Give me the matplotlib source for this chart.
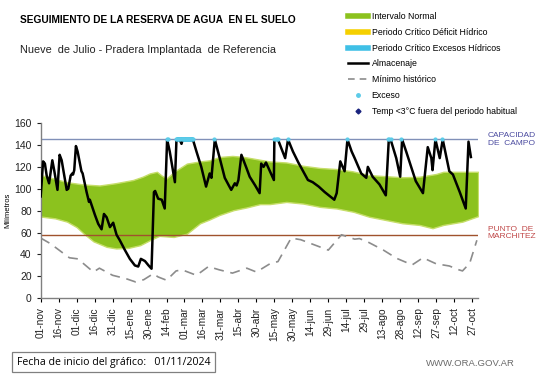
import matplotlib
matplotlib.use("Agg")
import matplotlib.pyplot as plt
from matplotlib.lines import Line2D
import numpy as np

plt.rcParams['font.family'] = ['Liberation Sans', 'DejaVu Sans']

# ---------------- data ----------------
tick_labels = ["01-nov", "16-nov", "01-dic", "16-dic", "31-dic", "15-ene", "30-ene",
               "14-feb", "01-mar", "16-mar", "31-mar", "15-abr", "30-abr", "15-may",
               "30-may", "14-jun", "29-jun", "14-jul", "29-jul", "13-ago", "28-ago",
               "12-sep", "27-sep", "12-oct", "27-oct"]
tick_days = [15 * i for i in range(len(tick_labels))]

band_up_days = [0, 2, 12, 22, 35, 49, 62, 77, 85, 91, 97, 101, 105, 112, 122, 133, 141, 149,
                160, 170, 183, 191, 205, 219, 233, 247, 260, 274, 288, 302, 316, 330, 336, 350, 365]
band_up_vals = [110, 112, 109, 106, 104, 103, 105, 108, 111, 114, 115.5, 112, 109.5, 116, 123, 125, 126, 129,
                130, 129, 126.5, 125, 124, 121, 119, 118, 116, 112.5, 111.5, 110.5, 111, 113.5, 115.5, 115.5, 115.5]

band_lo_days = [0, 1, 12, 22, 30, 36, 44, 55, 63, 73, 83, 91, 99, 105, 111, 122, 133, 141, 149,
                161, 172, 183, 191, 205, 219, 233, 247, 261, 274, 288, 302, 316, 327, 336, 352, 365]
band_lo_vals = [75, 74.5, 73, 70, 65, 59, 52, 47, 45.5, 46, 48.5, 53, 57, 56.5, 56, 59, 68.5, 72, 76,
                80.5, 83, 86, 86, 88, 86.5, 83.5, 82, 79, 74.5, 71.5, 68.5, 67, 64, 67, 70, 75]

min_days = [0, 8, 19, 24, 31, 44, 49, 60, 71, 79, 86, 94, 98, 105, 113, 118, 130, 140, 149, 160,
            172, 180, 192, 198, 209, 217, 240, 251, 262, 266, 272, 286, 297, 310, 319, 330, 341,
            349, 352, 358, 364]
min_vals = [55, 50, 41, 37, 36, 24, 27.5, 21, 18, 15, 17, 22.5, 19.5, 16.5, 25, 26, 21, 29, 26, 23,
            27.5, 24, 32, 33.5, 55, 53.5, 44, 58, 54, 54.5, 52, 44, 36.5, 30.5, 37, 31.5, 29.5,
            26, 25, 32, 53]

alm_days = [0, 2, 3.5, 5, 7, 9.7, 11.4, 14, 15.8, 17.5, 21.7, 23, 25, 26.4, 27, 28, 29.4, 30.8,
            34, 35, 38.3, 40.3, 41, 45.3, 48, 50.8, 52.8, 55, 57.8, 60.5, 63.3, 66, 70.3, 74.4,
            78.6, 81.4, 83.6, 87, 90, 92.5, 94.5, 95.5, 98, 101, 103.5, 105.5, 107.7, 112, 113.3,
            116, 117.5, 118.5, 127, 130, 134, 138, 141, 142.5, 145.3, 149.4, 153.6, 157, 159,
            162, 163.5, 165, 167.5, 171.7, 174.4, 179, 182.7, 184, 186, 188, 194.6, 195, 198,
            200.8, 204, 206.4, 210.5, 215, 219, 223, 227, 232, 237, 245, 247, 250, 253.6, 256,
            259.5, 262, 267.5, 271.7, 273, 277, 282.7, 288, 290.5, 292, 296.7, 300, 301.6, 305,
            313, 319, 323, 326, 327, 329.4, 333, 335.5, 341, 344, 349.7, 354.7, 357, 359]
alm_vals = [93, 125, 123, 112, 105, 126, 116, 99, 131, 126, 99, 100, 112, 114, 113, 117, 139, 134,
            116, 114, 97, 88, 90, 76, 68, 63, 77, 74, 65, 69, 58, 53, 44, 36,
            30, 29, 36, 34, 30, 27, 97, 98, 91, 90, 82, 145, 134, 106, 145,
            145, 141, 145, 145, 134, 120, 102, 114, 110, 145, 128, 110, 103, 99,
            105, 103, 108, 131, 119, 111, 103, 96, 123, 120, 124, 108, 145, 145,
            137, 128, 145, 134, 124, 116, 108, 106, 102, 97, 90, 96, 125, 116, 145,
            134, 128, 114, 110, 120, 111, 104, 94, 145, 145, 128, 111, 145, 134,
            107, 96, 138, 128, 117, 145, 128, 145, 116, 113, 97, 82, 143, 129]

exceso_days = [105, 106, 113, 114, 115, 116, 118, 119, 120, 121, 122, 123, 124, 125, 126, 127,
               145, 195, 196, 197, 198, 206, 256, 290, 291, 292, 301, 329, 335]
critico_exceso = (113, 127)

cap_campo = 145
punto_marchitez = 58

# ---------------- figure ----------------
fig = plt.figure(figsize=(5.47, 3.86), dpi=100)
ax = fig.add_axes([0.0744, 0.2272, 0.7996, 0.4540])

green = '#8cc21e'
grid_days = np.arange(0, 366)
ax.fill_between(grid_days, np.interp(grid_days, band_lo_days, band_lo_vals),
                np.interp(grid_days, band_up_days, band_up_vals),
                color=green, edgecolor='#c6de6a', linewidth=1.0, zorder=1)

ax.axhline(cap_campo, color='#8090b8', lw=1.0, zorder=2)
ax.axhline(punto_marchitez, color='#a0522d', lw=1.0, zorder=2)

ax.plot(min_days, min_vals, color='#8c8c8c', lw=1.2, dashes=(6, 4), zorder=3)
ax.plot(critico_exceso, [cap_campo, cap_campo], color='#3fc0e6', lw=3.5, zorder=4,
        solid_capstyle='butt')
ax.plot(alm_days, alm_vals, color='black', lw=1.8, zorder=5)
ax.scatter(exceso_days, [cap_campo] * len(exceso_days), s=9, color='#5ccbe8', zorder=6,
           linewidths=0)

ax.set_xlim(0, 365)
ax.set_ylim(0, 160)
ax.set_yticks(range(0, 161, 20))
ax.set_xticks(tick_days)
ax.set_xticklabels(tick_labels, rotation=90, fontsize=7.3, color='#222222')
ax.tick_params(axis='y', labelsize=7.5, colors='#222222', length=3, width=0.8)
ax.tick_params(axis='x', length=3, width=0.8)
for s in ['top', 'right']:
    ax.spines[s].set_visible(False)
for s in ['left', 'bottom']:
    ax.spines[s].set_color('#808080')
    ax.spines[s].set_linewidth(1.0)
ax.set_ylabel('Milímetros', fontsize=5.5, labelpad=2)

# right side labels
ax.text(1.022, cap_campo, 'CAPACIDAD\nDE  CAMPO', transform=ax.get_yaxis_transform(),
        fontsize=6, color='#4b4ba0', va='center', ha='left', linespacing=1.1)
ax.text(1.022, punto_marchitez + 1.5, 'PUNTO  DE\nMARCHITEZ', transform=ax.get_yaxis_transform(),
        fontsize=6, color='#c04848', va='center', ha='left', linespacing=1.1)

# titles
fig.text(20 / 547, 1 - 20 / 386, 'SEGUIMIENTO DE LA RESERVA DE AGUA  EN EL SUELO',
         fontsize=7.3, fontweight='bold', va='center', ha='left')
fig.text(20 / 547, 1 - 50 / 386, 'Nueve  de Julio - Pradera Implantada  de Referencia',
         fontsize=7.8, va='center', ha='left', color='#222222')

# legend
handles = [
    Line2D([], [], color=green, lw=4),
    Line2D([], [], color='#f5d000', lw=4),
    Line2D([], [], color='#3fc0e6', lw=4),
    Line2D([], [], color='black', lw=1.8),
    Line2D([], [], color='#8c8c8c', lw=1.2, dashes=(4, 3)),
    Line2D([], [], color='#5ccbe8', marker='o', ls='none', markersize=2.5),
    Line2D([], [], color='#1a237e', marker='D', ls='none', markersize=2.5),
]
labels = ['Intervalo Normal', 'Periodo Crítico Déficit Hídrico', 'Periodo Crítico Excesos Hídricos',
          'Almacenaje', 'Mínimo histórico', 'Exceso', 'Temp <3°C fuera del periodo habitual']
leg = fig.legend(handles, labels, loc='upper left', bbox_to_anchor=(348 / 547, 1 - 12 / 386),
                 frameon=False, fontsize=6.3, handlelength=2.3, handletextpad=0.4,
                 labelspacing=0.78, borderaxespad=0, borderpad=0)

# footer
fig.text(17 / 547, 1 - 362 / 386, 'Fecha de inicio del gráfico:   01/11/2024', fontsize=7.6,
         va='center', ha='left', family=['Open Sans', 'DejaVu Sans'],
         bbox=dict(boxstyle='square,pad=0.45', facecolor='white', edgecolor='#808080', lw=0.9))
fig.text(515 / 547, 1 - 364 / 386, 'WWW.ORA.GOV.AR', fontsize=6.8, color='#6a6a6a',
         va='center', ha='right')

fig.savefig('out.png', dpi=100)
